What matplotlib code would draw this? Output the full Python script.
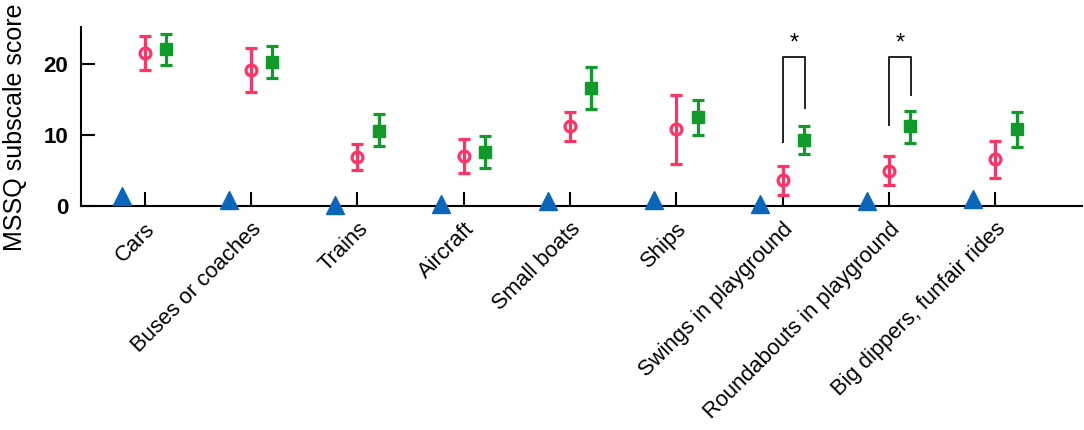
import matplotlib
matplotlib.use("Agg")
import matplotlib.pyplot as plt
import numpy as np

plt.rcParams['font.family'] = ['Liberation Sans', 'DejaVu Sans']

categories = ["Cars", "Buses or coaches", "Trains", "Aircraft", "Small boats",
              "Ships", "Swings in playground", "Roundabouts in playground",
              "Big dippers, funfair rides"]
blue_mean = [1.4, 0.85, 0.2, 0.3, 0.7, 0.85, 0.3, 0.7, 1.0]
pink_mean = [21.5, 19.2, 6.9, 7.1, 11.3, 10.8, 3.6, 4.9, 6.6]
pink_lo = [19.2, 16.0, 5.1, 4.6, 9.2, 5.9, 1.5, 2.9, 3.9]
pink_hi = [23.9, 22.3, 8.7, 9.5, 13.3, 15.6, 5.7, 7.1, 9.1]
green_mean = [22.1, 20.3, 10.6, 7.6, 16.6, 12.6, 9.3, 11.2, 10.8]
green_lo = [19.8, 18.0, 8.4, 5.4, 13.6, 10.0, 7.3, 8.9, 8.3]
green_hi = [24.2, 22.5, 13.0, 9.9, 19.6, 14.9, 11.3, 13.4, 13.2]
yticks = [0, 10, 20]
# significance brackets: (category index, left bottom, right bottom, top)
sig_cat = [6, 7]
sig_left = [9.0, 11.4]
sig_right = [13.8, 15.7]
sig_top = [21.0, 21.0]

PINK = "#FF3366"
GREEN = "#109A2A"
BLUE = "#0A66BB"

fig = plt.figure(figsize=(10.84, 4.30), dpi=100)
ax = fig.add_axes([0.0747, 0.521, 0.923, 0.416])

x = np.arange(1, len(categories) + 1)
pm = np.array(pink_mean); gm = np.array(green_mean)
ax.errorbar(x, pm, yerr=[pm - np.array(pink_lo), np.array(pink_hi) - pm],
            fmt='o', color=PINK, mfc='none', mec=PINK, mew=2.3, ms=7.8,
            elinewidth=2.3, capsize=4, capthick=2.3, zorder=3)
ax.errorbar(x + 0.2, gm, yerr=[gm - np.array(green_lo), np.array(green_hi) - gm],
            fmt='s', color=GREEN, mfc=GREEN, mec=GREEN, ms=8,
            elinewidth=2.3, capsize=4, capthick=2.3, zorder=3)
ax.plot(x - 0.21, blue_mean, linestyle='none', marker='^', color=BLUE, ms=12.5,
        clip_on=False, zorder=4)

for c, l, r, t in zip(sig_cat, sig_left, sig_right, sig_top):
    xc = c + 1
    ax.plot([xc, xc, xc + 0.21, xc + 0.21], [l, t, t, r], color='#222222', lw=1.4)
    ax.text(xc + 0.105, t + 0.3, "*", ha='center', va='bottom', fontsize=17)

ax.set_xlim(0.4, 9.81)
ax.set_ylim(0, 25.2)
ax.set_yticks(yticks)
ax.set_xticks(x)
ax.set_xticklabels(categories, rotation=45, ha='right', rotation_mode='anchor', fontsize=15.8)
ax.tick_params(axis='y', direction='in', length=10, width=1.5, labelsize=16, pad=9)
ax.tick_params(axis='x', direction='in', length=10, width=1.5, pad=9)
for lab in ax.get_yticklabels():
    lab.set_fontweight('bold')
ax.spines['top'].set_visible(False)
ax.spines['right'].set_visible(False)
ax.spines['left'].set_linewidth(1.5)
ax.spines['bottom'].set_linewidth(1.5)
ax.set_ylabel("MSSQ subscale score", fontsize=18)
ax.yaxis.set_label_coords(-0.054, 0.44)

fig.savefig("out.png", dpi=100)
